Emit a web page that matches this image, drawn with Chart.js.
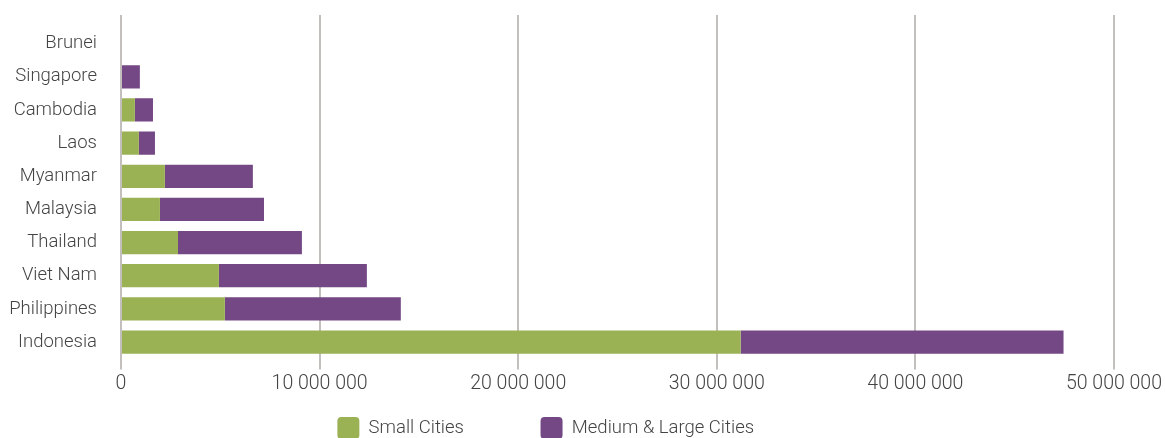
<!DOCTYPE html>
<html>
<head>
<meta charset="utf-8">
<script src="https://cdn.jsdelivr.net/npm/chart.js@4"></script>
<style>
  html, body { margin: 0; padding: 0; background: #fff; }
  #wrap { width: 1165px; height: 438px; }
</style>
</head>
<body>
<div id="wrap"><canvas id="chart"></canvas></div>
<script>
const countries = ["Brunei", "Singapore", "Cambodia", "Laos", "Myanmar", "Malaysia", "Thailand", "Viet Nam", "Philippines", "Indonesia"];
const smallCities = [0, 0, 700000, 900000, 2210000, 1960000, 2870000, 4930000, 5230000, 31200000];
const mediumLargeCities = [0, 950000, 910000, 810000, 4430000, 5240000, 6240000, 7450000, 8860000, 16260000];
const xTicks = [0, 10000000, 20000000, 30000000, 40000000, 50000000];

const GREEN = "#9bb254";
const PURPLE = "#744785";
const GRID = "#c2bfbc";
const TEXT = "#444444";

Chart.defaults.font.family = "Roboto";
Chart.defaults.font.weight = 300;
Chart.defaults.font.size = 18.5;
Chart.defaults.color = TEXT;

const fmt = (v) => String(v).replace(/\B(?=(\d{3})+(?!\d))/g, " ");

const ctx = document.getElementById("chart").getContext("2d");
new Chart(ctx, {
    type: "bar",
    data: {
        labels: countries,
        datasets: [
            {
                label: "Small Cities",
                data: smallCities,
                backgroundColor: GREEN,
            },
            {
                label: "Medium & Large Cities",
                data: mediumLargeCities,
                backgroundColor: PURPLE,
            },
        ],
    },
    options: {
        indexAxis: "y",
        responsive: true,
        maintainAspectRatio: false,
        animation: false,
        layout: { padding: { top: 5, left: 9, right: 51, bottom: 0 } },
        datasets: {
            bar: { categoryPercentage: 1, barPercentage: 0.7 },
        },
        scales: {
            x: {
                stacked: true,
                min: 0,
                max: 50000000,
                afterBuildTicks: (axis) => { axis.ticks = xTicks.map((v) => ({ value: v })); },
                ticks: { padding: 3, font: { size: 19.5 }, callback: (v) => fmt(v) },
                grid: { color: GRID, lineWidth: 2, tickLength: 11 },
                border: { display: false },
            },
            x2: {
                position: "top",
                min: 0,
                max: 50000000,
                afterBuildTicks: (axis) => { axis.ticks = xTicks.map((v) => ({ value: v })); },
                ticks: { display: false },
                grid: { color: GRID, lineWidth: 2, tickLength: 12, drawOnChartArea: false },
                border: { display: false },
            },
            y: {
                stacked: true,
                ticks: { padding: 16 },
                grid: { display: false },
                border: { display: true, color: GRID, width: 2 },
                afterFit: (axis) => { axis.width = 112; },
            },
        },
        plugins: {
            tooltip: { enabled: false },
            legend: {
                position: "bottom",
                maxHeight: 39,
                labels: {
                    boxWidth: 22,
                    boxHeight: 22,
                    padding: 18,
                    useBorderRadius: true,
                    borderRadius: 4,
                    generateLabels: (chart) => {
                        const items = Chart.defaults.plugins.legend.labels.generateLabels(chart);
                        items.forEach((it) => { it.lineWidth = 0; });
                        items[0].text = items[0].text + " ".repeat(13);
                        items[1].text = items[1].text + " ".repeat(7);
                        return items;
                    },
                },
            },
        },
    },
});
</script>
</body>
</html>
